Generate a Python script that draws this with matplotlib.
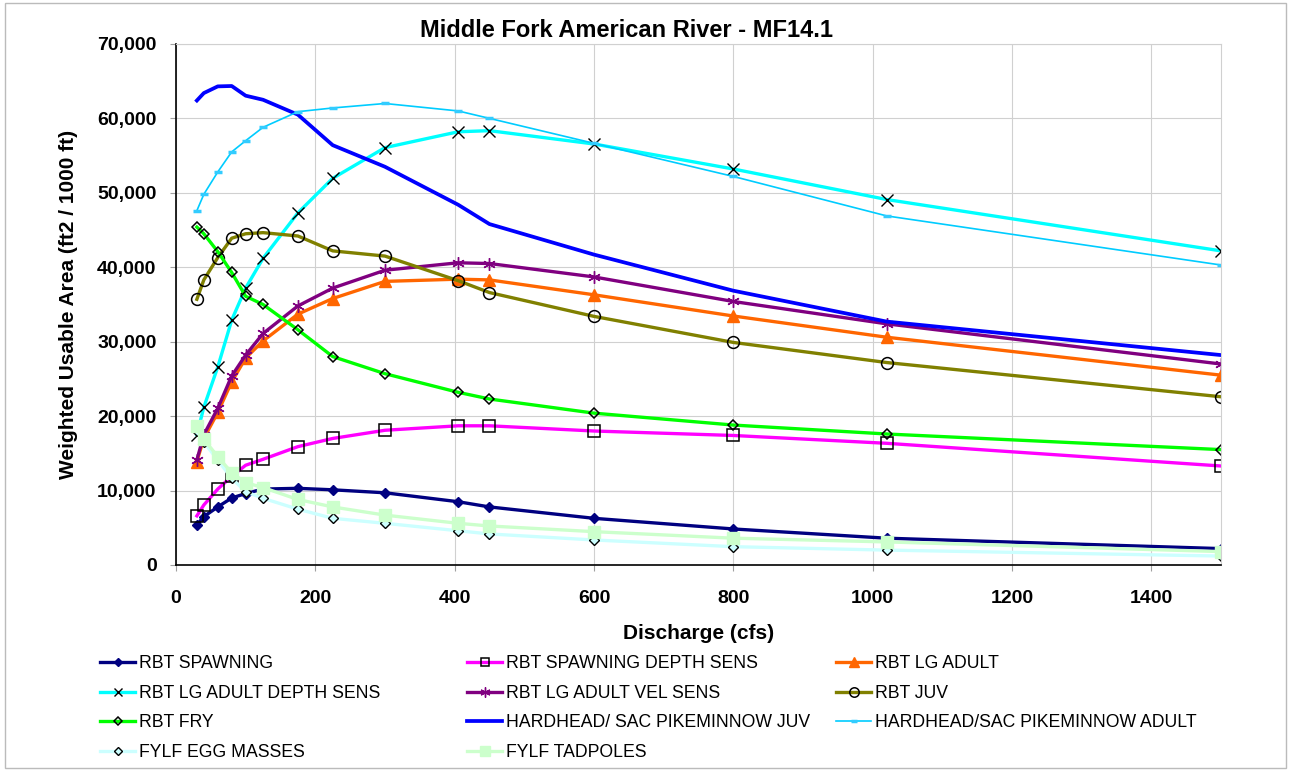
import numpy as np
import matplotlib.pyplot as plt
from matplotlib.ticker import FuncFormatter, MultipleLocator
from matplotlib.patches import Rectangle

plt.rcParams['font.family'] = ['Liberation Sans', 'DejaVu Sans']

# discharge (cfs)
flow = [30, 40, 60, 80, 100, 125, 175, 225, 300, 405, 450, 600, 800, 1020, 1500]

# weighted usable area (ft2 / 1000 ft)
rbt_spawning = [5370, 6500, 7800, 9000, 9600, 10200, 10300, 10100, 9700, 8500, 7800, 6270, 4840, 3600, 2200]
rbt_spawning_depth = [6600, 8060, 10200, 11900, 13400, 14200, 15900, 17000, 18100, 18700, 18700, 18000, 17400, 16350, 13300]
rbt_lg_adult = [13900, 17000, 20500, 24600, 27800, 30100, 33700, 35800, 38100, 38400, 38300, 36300, 33450, 30600, 25500]
rbt_lg_adult_depth = [17500, 21200, 26600, 32900, 37200, 41200, 47300, 51950, 56070, 58200, 58350, 56560, 53200, 49100, 42200]
rbt_lg_adult_vel = [14100, 17500, 21050, 25400, 28200, 31100, 34800, 37200, 39600, 40600, 40500, 38700, 35400, 32400, 27000]
rbt_juv = [35700, 38300, 41300, 43900, 44500, 44650, 44200, 42200, 41500, 38200, 36600, 33400, 29900, 27200, 22600]
rbt_fry = [45400, 44500, 42100, 39300, 36100, 35000, 31600, 28000, 25700, 23200, 22300, 20400, 18800, 17600, 15500]
hh_juv = [62400, 63400, 64300, 64350, 63050, 62500, 60500, 56400, 53500, 48400, 45800, 41700, 36850, 32700, 28200]
hh_adult = [47600, 49800, 52800, 55500, 57000, 58800, 60900, 61400, 62000, 61000, 60000, 56650, 52200, 46900, 40300]
fylf_egg = [18000, 16500, 14100, 11650, 9850, 8960, 7500, 6270, 5600, 4600, 4170, 3360, 2460, 2000, 1200]
fylf_tadpoles = [18700, 16900, 14550, 12400, 11060, 10400, 8800, 7800, 6700, 5600, 5240, 4480, 3600, 3100, 1800]

fig = plt.figure(figsize=(12.91, 7.71), dpi=100)
ax = fig.add_axes([0.1363, 0.2672, 0.8095, 0.6758])

lw = 2.4
series = [
    (rbt_spawning, 'RBT SPAWNING', dict(color='#000080', marker='D', ms=5.2, mfc='#000080', mec='#000080', lw=lw)),
    (rbt_spawning_depth, 'RBT SPAWNING DEPTH SENS', dict(color='#FF00FF', marker='s', ms=8, mfc='none', mec='black', mew=1.1, lw=lw)),
    (rbt_lg_adult, 'RBT LG ADULT', dict(color='#FF6600', marker='^', ms=8.5, mfc='#FF6600', mec='#FF6600', lw=lw)),
    (rbt_lg_adult_depth, 'RBT LG ADULT DEPTH SENS', dict(color='#00FFFF', marker='x', ms=8, mec='black', mew=1.0, lw=lw)),
    (rbt_lg_adult_vel, 'RBT LG ADULT VEL SENS', dict(color='#800080', marker=(6, 2, 0), ms=9, mec='#800080', mew=1.0, lw=lw)),
    (rbt_juv, 'RBT JUV', dict(color='#808000', marker='o', ms=8.5, mfc='none', mec='black', mew=1.1, lw=lw)),
    (rbt_fry, 'RBT FRY', dict(color='#00FF00', marker='D', ms=5.6, mfc='none', mec='black', mew=1.1, lw=lw)),
    (hh_juv, 'HARDHEAD/ SAC PIKEMINNOW JUV', dict(color='#0000FF', lw=lw + 0.3)),
    (hh_adult, 'HARDHEAD/SAC PIKEMINNOW ADULT', dict(color='#00CCFF', marker='_', ms=6, mec='#33CCFF', mew=2.5, lw=1.2)),
    (fylf_egg, 'FYLF EGG MASSES', dict(color='#CCFFFF', marker='D', ms=5.6, mfc='#CCFFFF', mec='black', mew=1.0, lw=lw)),
    (fylf_tadpoles, 'FYLF TADPOLES', dict(color='#CCFFCC', marker='s', ms=9, mfc='#CCFFCC', mec='#CCFFCC', lw=lw)),
]

handles = {}
for vals, name, kw in series:
    ln, = ax.plot(flow, vals, label=name, **kw)
    handles[name] = ln

ax.set_xlim(0, 1500)
ax.set_ylim(0, 70000)
ax.xaxis.set_major_locator(MultipleLocator(200))
ax.yaxis.set_major_locator(MultipleLocator(10000))
ax.yaxis.set_major_formatter(FuncFormatter(lambda v, p: f'{int(v):,}'))
ax.grid(True, color='#D0D0D0', lw=0.8)
ax.set_axisbelow(True)
for s in ['top', 'right']:
    ax.spines[s].set_color('#D0D0D0')
for s in ['left', 'bottom']:
    ax.spines[s].set_color('black')
    ax.spines[s].set_linewidth(1.2)
ax.tick_params(direction='out', length=4, color='#A0A0A0', labelsize=14, pad=10)
ax.tick_params(axis='x', pad=14)
for lab in ax.get_xticklabels() + ax.get_yticklabels():
    lab.set_fontweight('bold')

ax.set_xlabel('Discharge (cfs)', fontsize=15, fontweight='bold', labelpad=12)
ax.set_ylabel('Weighted Usable Area (ft2 / 1000 ft)', fontsize=15, fontweight='bold', labelpad=14)
fig.text(0.4855, 0.961, 'Middle Fork American River - MF14.1', ha='center', va='center',
         fontsize=17, fontweight='bold')

# legend: three columns laid out row by row like the original
cols = [
    ['RBT SPAWNING', 'RBT LG ADULT DEPTH SENS', 'RBT FRY', 'FYLF EGG MASSES'],
    ['RBT SPAWNING DEPTH SENS', 'RBT LG ADULT VEL SENS', 'HARDHEAD/ SAC PIKEMINNOW JUV', 'FYLF TADPOLES'],
    ['RBT LG ADULT', 'RBT JUV', 'HARDHEAD/SAC PIKEMINNOW ADULT'],
]
xs = [0.0775, 0.3617, 0.6476]
for names, x0 in zip(cols, xs):
    fig.legend([handles[n] for n in names], names, loc='upper left', bbox_to_anchor=(x0, 0.150),
               frameon=False, fontsize=12.7, numpoints=1, handlelength=2.0, handletextpad=0.2,
               labelspacing=0.71, borderpad=0, borderaxespad=0, markerscale=0.8)

fig.patches.append(Rectangle((0.004, 0.004), 0.992, 0.992, transform=fig.transFigure,
                             fill=False, edgecolor='#BBBBBB', lw=1.0))

fig.savefig('out.png', dpi=100)
